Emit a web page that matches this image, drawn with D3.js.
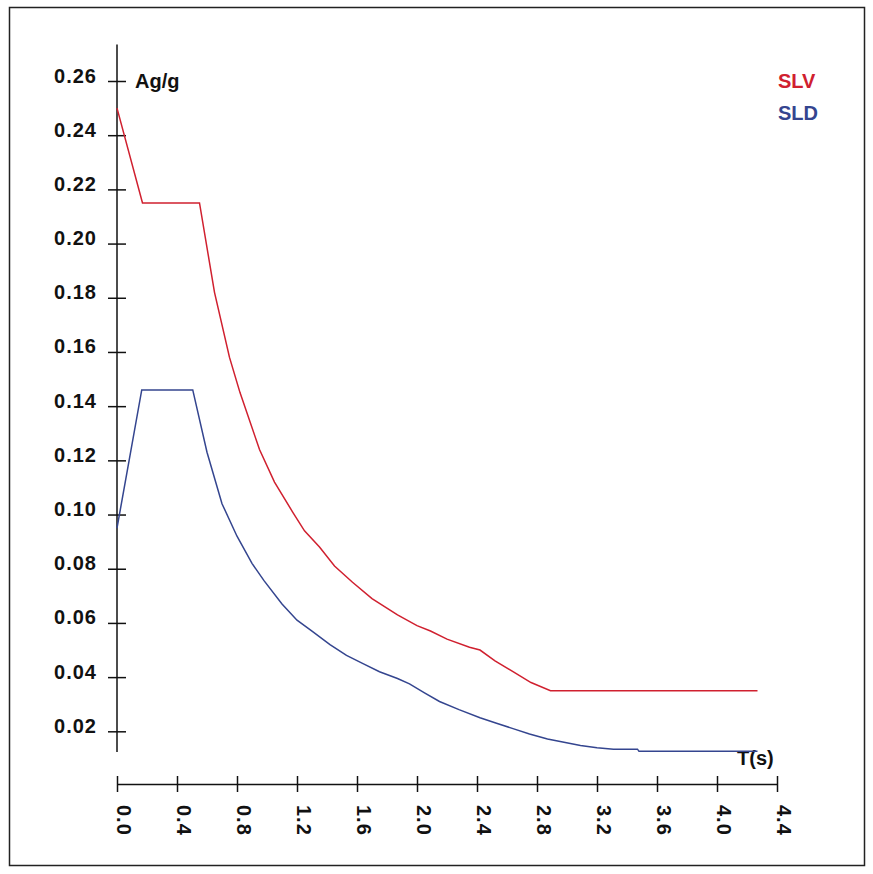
<!DOCTYPE html>
<html>
<head>
<meta charset="utf-8">
<script src="https://cdn.jsdelivr.net/npm/d3@7"></script>
<style>
  body { margin: 0; background: #fff; }
  svg text { font-family: "Liberation Sans", Arial, sans-serif; fill: #111; }
</style>
</head>
<body>
<div class="chart"></div>
<script>
// spectrum values (T in s, Se in g)
const slvT = [0.00, 0.17, 0.55, 0.65, 0.75, 0.82, 0.95, 1.05, 1.17, 1.25, 1.35, 1.45, 1.57, 1.70, 1.87, 2.00, 2.09, 2.20, 2.35, 2.42, 2.52, 2.64, 2.76, 2.89, 4.27];
const slvA = [0.250, 0.215, 0.215, 0.182, 0.158, 0.145, 0.124, 0.112, 0.101, 0.094, 0.088, 0.081, 0.075, 0.069, 0.063, 0.059, 0.057, 0.054, 0.051, 0.050, 0.046, 0.042, 0.038, 0.035, 0.035];

const sldT = [0.00, 0.165, 0.505, 0.60, 0.70, 0.80, 0.90, 0.98, 1.10, 1.20, 1.30, 1.42, 1.53, 1.64, 1.75, 1.87, 1.95, 2.05, 2.15, 2.28, 2.42, 2.53, 2.64, 2.75, 2.87, 2.98, 3.09, 3.20, 3.31, 3.47, 3.48, 4.27];
const sldA = [0.095, 0.146, 0.146, 0.123, 0.104, 0.092, 0.082, 0.0756, 0.067, 0.061, 0.057, 0.052, 0.048, 0.045, 0.042, 0.0395, 0.0375, 0.0342, 0.031, 0.028, 0.025, 0.023, 0.021, 0.019, 0.0172, 0.016, 0.0148, 0.0139, 0.0134, 0.0134, 0.0126, 0.0126];

const xTicks = [0.0, 0.4, 0.8, 1.2, 1.6, 2.0, 2.4, 2.8, 3.2, 3.6, 4.0, 4.4];
const yTicks = [0.02, 0.04, 0.06, 0.08, 0.10, 0.12, 0.14, 0.16, 0.18, 0.20, 0.22, 0.24, 0.26];

const seriesNames = ['SLV', 'SLD'];
const seriesColors = ['#d0202f', '#34458f'];

const width = 873, height = 874;

const svg = d3.select('.chart')
  .append('svg')
  .attr('width', width)
  .attr('height', height);

// outer frame
svg.append('rect')
  .attr('x', 9.5).attr('y', 7.5)
  .attr('width', 855).attr('height', 858)
  .attr('fill', 'none')
  .attr('stroke', '#222')
  .attr('stroke-width', 1.5);

const x = d3.scaleLinear().domain([0, 4.4]).range([117, 777]);
const y = d3.scaleLinear().domain([0, 0.26]).range([785.5, 81]);

// x axis, ticks crossing the line
const xAxis = svg.append('g')
  .attr('transform', 'translate(0,784)')
  .call(d3.axisBottom(x).tickValues(xTicks).tickSize(0).tickFormat(d3.format('.1f')));

xAxis.select('.domain').attr('stroke', '#111').attr('stroke-width', 1.5);
xAxis.selectAll('.tick line')
  .attr('y1', -8).attr('y2', 8)
  .attr('stroke', '#111').attr('stroke-width', 1.5);
xAxis.selectAll('.tick text')
  .attr('transform', 'translate(-1,21) rotate(90)')
  .attr('x', 0).attr('y', 0).attr('dy', 0)
  .attr('text-anchor', 'start')
  .style('font-size', '20px')
  .style('font-weight', 'bold')
  .style('letter-spacing', '1px');

// y axis, stops short of the x axis
const yAxis = svg.append('g')
  .attr('transform', 'translate(117,0)')
  .call(d3.axisLeft(y).tickValues(yTicks).tickSize(0).tickFormat(d3.format('.2f')));

yAxis.select('.domain').remove();
yAxis.append('line')
  .attr('y1', y(0.2735)).attr('y2', y(0.0124))
  .attr('stroke', '#111').attr('stroke-width', 1.5);
yAxis.selectAll('.tick line')
  .attr('x1', -9).attr('x2', 9)
  .attr('stroke', '#111').attr('stroke-width', 1.5);
yAxis.selectAll('.tick text')
  .attr('x', -20).attr('dy', 1)
  .attr('text-anchor', 'end')
  .style('font-size', '20px')
  .style('font-weight', 'bold')
  .style('letter-spacing', '1px');

svg.append('text')
  .attr('x', 135).attr('y', 88)
  .style('font-size', '20px')
  .style('font-weight', 'bold')
  .text('Ag/g');

svg.append('text')
  .attr('x', 737).attr('y', 765)
  .style('font-size', '20px')
  .style('font-weight', 'bold')
  .text('T(s)');

// curves
const line = d3.line()
  .x(d => x(d[0]))
  .y(d => y(d[1]));

const series = [
  d3.zip(slvT, slvA),
  d3.zip(sldT, sldA)
];

svg.selectAll('.curve')
  .data(series)
  .enter().append('path')
  .attr('class', 'curve')
  .attr('d', line)
  .attr('fill', 'none')
  .attr('stroke', (d, i) => seriesColors[i])
  .attr('stroke-width', 1.5);

// legend
svg.selectAll('.legend')
  .data(seriesNames)
  .enter().append('text')
  .attr('class', 'legend')
  .attr('x', 778)
  .attr('y', (d, i) => 88 + i * 32)
  .style('font-size', '20px')
  .style('font-weight', 'bold')
  .style('fill', (d, i) => seriesColors[i])
  .text(d => d);
</script>
</body>
</html>
